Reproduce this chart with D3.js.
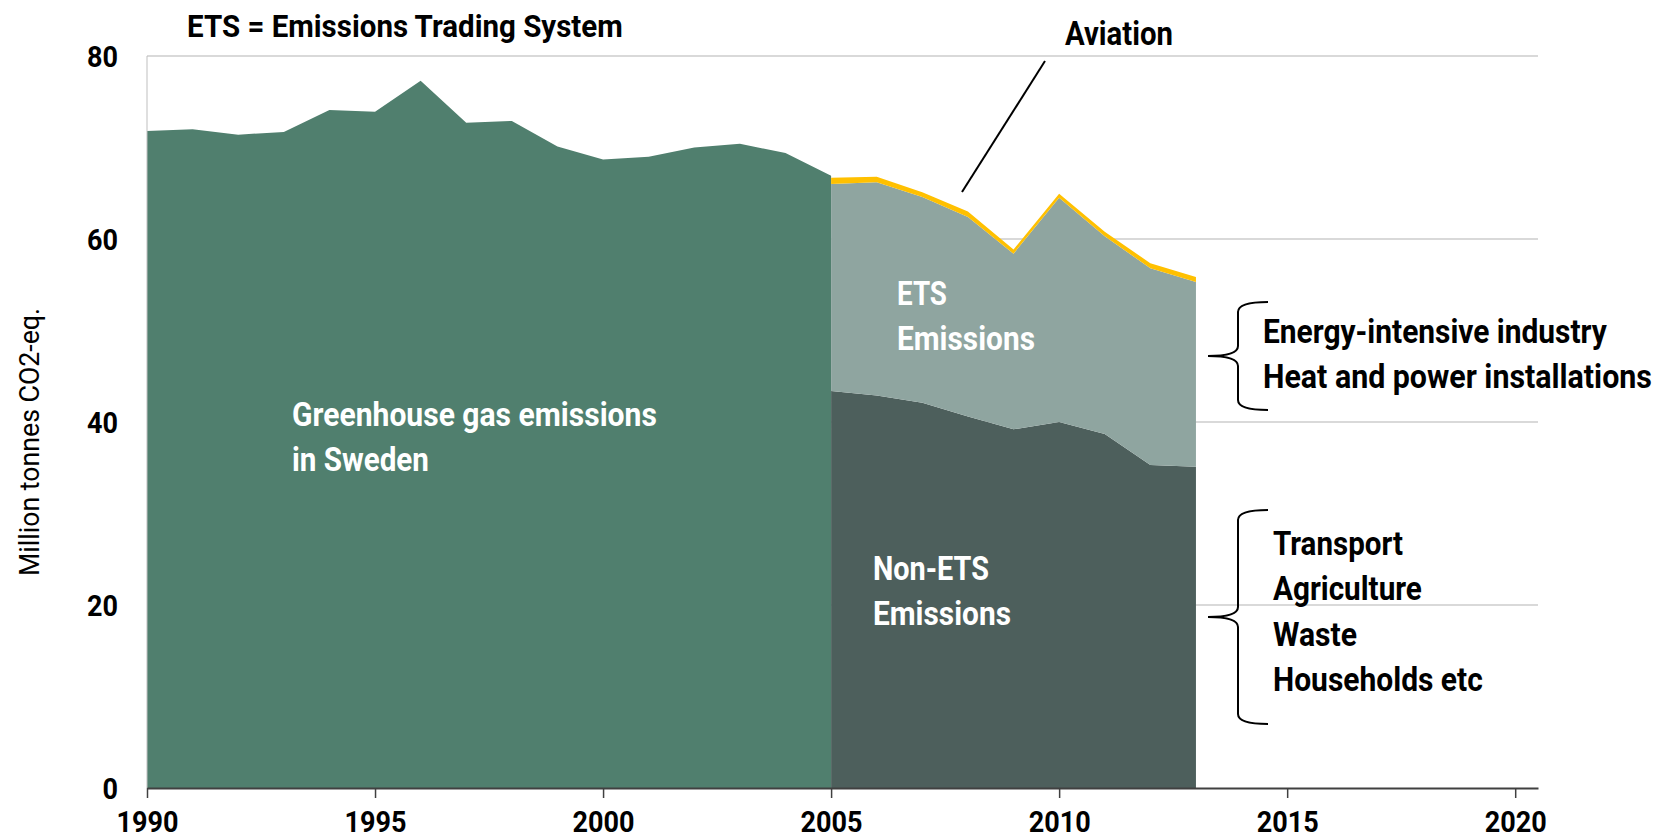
<!DOCTYPE html>
<html>
<meta charset="utf-8">
<style type="text/css">

	body {
		margin: 0;
		background: #fff;
	}

	text {
		font-family: Roboto, "DejaVu Sans Condensed", sans-serif;
		font-weight: bold;
	}

	.grid line {
		stroke: #d9d9d9;
		stroke-width: 2px;
	}

	.brace, .leader {
		fill: none;
		stroke: #000;
		stroke-width: 2px;
	}

</style>
<svg width="1673" height="840"></svg>
<script src="https://d3js.org/d3.v7.min.js"></script>
<script>
	// total emissions before the ETS split
	var years = [1990, 1991, 1992, 1993, 1994, 1995, 1996, 1997, 1998, 1999, 2000, 2001, 2002, 2003, 2004, 2005];
	var total = [71.8, 72.0, 71.4, 71.7, 74.1, 73.9, 77.3, 72.7, 72.9, 70.1, 68.7, 69.0, 70.0, 70.4, 69.4, 66.9];

	// split from 2005
	var etsYears = [2005, 2006, 2007, 2008, 2009, 2010, 2011, 2012, 2013];
	var nonEts = [43.4, 42.9, 42.1, 40.6, 39.2, 40.0, 38.7, 35.3, 35.1];
	var ets = [22.6, 23.3, 22.5, 21.8, 19.2, 24.5, 21.6, 21.5, 20.2];
	var aviation = [0.7, 0.6, 0.5, 0.6, 0.45, 0.45, 0.5, 0.55, 0.55];

	var yTicks = [0, 20, 40, 60, 80];
	var xTicks = [1990, 1995, 2000, 2005, 2010, 2015, 2020];

	var svg = d3.select('svg');

	var x = d3.scaleLinear().domain([1990, 2020.5]).range([147, 1538]),
			y = d3.scaleLinear().domain([0, 80]).range([788, 56]);

	// the source font is a condensed one, so squeeze text horizontally to its width
	function squeeze(sel, w) {
		sel.each(function() {
			var t = d3.select(this),
					x0 = +t.attr('x') || 0,
					k = w / this.getComputedTextLength();
			t.attr('transform', 'translate(' + x0 + ',0) scale(' + k + ',1) translate(' + (-x0) + ',0)');
		});
	}

	// gridlines
	svg.append('g').attr('class', 'grid')
		.selectAll('line')
		.data(yTicks.slice(1))
		.enter().append('line')
			.attr('x1', x(1990)).attr('x2', x(2020.5))
			.attr('y1', d => y(d)).attr('y2', d => y(d));

	var area = d3.area()
			.x(d => x(d.year))
			.y0(d => y(d.lo))
			.y1(d => y(d.hi));

	svg.append('path')
		.datum(years.map((yr, i) => ({year: yr, lo: 0, hi: total[i]})))
		.attr('fill', '#507f6e')
		.attr('d', area);

	var rows = etsYears.map((yr, i) => ({year: yr, nonEts: nonEts[i], ets: ets[i], aviation: aviation[i]}));
	var stack = d3.stack().keys(['nonEts', 'ets', 'aviation'])(rows);
	var colors = {nonEts: '#4d5f5c', ets: '#8fa5a0', aviation: '#ffc000'};

	svg.selectAll('.layer')
		.data(stack)
		.enter().append('path')
			.attr('class', 'layer')
			.attr('fill', d => colors[d.key])
			.attr('d', d => area(d.map(p => ({year: p.data.year, lo: p[0], hi: p[1]}))));

	// thin y axis line
	svg.append('line')
		.attr('x1', x(1990)).attr('x2', x(1990))
		.attr('y1', y(0)).attr('y2', y(80))
		.attr('stroke', '#bfbfbf').attr('stroke-width', 1);

	// x axis
	var xAxis = svg.append('g')
			.attr('transform', 'translate(0,' + y(0) + ')')
			.call(d3.axisBottom(x).tickValues(xTicks).tickFormat(d3.format('d')).tickSize(10).tickSizeOuter(0));
	xAxis.select('.domain').attr('stroke', '#404040').attr('stroke-width', 2);
	xAxis.selectAll('.tick line').attr('stroke', '#404040').attr('stroke-width', 1.5);
	xAxis.selectAll('.tick text')
		.attr('y', 44).attr('dy', null)
		.attr('fill', '#000')
		.style('font-size', '29px')
		.call(squeeze, 62);

	// y labels
	svg.append('g').selectAll('text')
		.data(yTicks)
		.enter().append('text')
			.attr('x', 118)
			.attr('y', d => y(d) + 11)
			.attr('text-anchor', 'end')
			.style('font-size', '30px')
			.text(d => d)
			.each(function(d) { squeeze(d3.select(this), String(d).length * 15.5); });

	svg.append('text')
		.attr('transform', 'translate(39,442) rotate(-90)')
		.attr('text-anchor', 'middle')
		.style('font-size', '28px')
		.style('font-weight', 'normal')
		.attr('textLength', 268)
		.attr('lengthAdjust', 'spacingAndGlyphs')
		.text('Million tonnes CO2-eq.');

	svg.append('text')
		.attr('x', 187).attr('y', 37)
		.style('font-size', '31px')
		.text('ETS = Emissions Trading System')
		.call(squeeze, 436);

	// aviation callout
	svg.append('line').attr('class', 'leader')
		.attr('x1', 1045).attr('y1', 61)
		.attr('x2', 962).attr('y2', 192);
	svg.append('text')
		.attr('x', 1065).attr('y', 45)
		.style('font-size', '33px')
		.text('Aviation')
		.call(squeeze, 108);

	function label(lines, widths, x0, y0, fill) {
		lines.forEach((s, i) => {
			svg.append('text')
				.attr('x', x0).attr('y', y0 + i * 45.5)
				.attr('fill', fill)
				.style('font-size', '33px')
				.text(s)
				.call(squeeze, widths[i]);
		});
	}

	label(['Greenhouse gas emissions', 'in Sweden'], [365, 137], 292, 426, '#fff');
	label(['ETS', 'Emissions'], [50, 138], 897, 305, '#fff');
	label(['Non-ETS', 'Emissions'], [116, 138], 873, 580, '#fff');
	label(['Energy-intensive industry', 'Heat and power installations'], [344, 389], 1263, 343, '#000');
	label(['Transport', 'Agriculture', 'Waste', 'Households etc'], [130, 149, 84, 210], 1273, 555, '#000');

	function brace(top, mid, bottom) {
		var xs = 1268, xv = 1238, xt = 1208, r = 10;
		return 'M' + xs + ',' + top +
			'Q' + xv + ',' + top + ' ' + xv + ',' + (top + r) +
			'L' + xv + ',' + (mid - r) +
			'Q' + xv + ',' + mid + ' ' + xt + ',' + mid +
			'Q' + xv + ',' + mid + ' ' + xv + ',' + (mid + r) +
			'L' + xv + ',' + (bottom - r) +
			'Q' + xv + ',' + bottom + ' ' + xs + ',' + bottom;
	}

	svg.append('path').attr('class', 'brace').attr('d', brace(302, 356, 410));
	svg.append('path').attr('class', 'brace').attr('d', brace(510, 617, 724));

</script>
</html>
